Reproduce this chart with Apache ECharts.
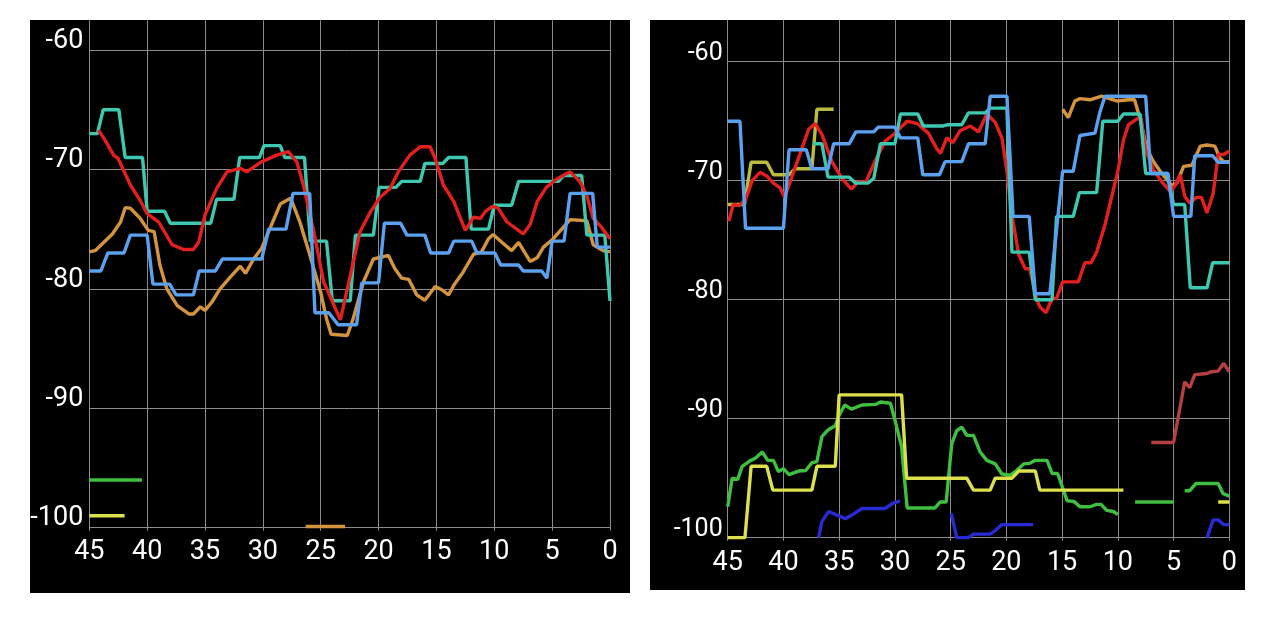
<!DOCTYPE html>
<html>
<head>
<meta charset="utf-8">
<script src="https://cdn.jsdelivr.net/npm/echarts@6/dist/echarts.min.js"></script>
<style>
html,body{margin:0;padding:0;background:#fff;}
#chart{width:1278px;height:619px;}
</style>
</head>
<body>
<div id="chart"></div>
<script>
// ---------- tick labels ----------
const xTicks = [45, 40, 35, 30, 25, 20, 15, 10, 5, 0];
const yTicks = [-60, -70, -80, -90, -100];

// ---------- left panel series ([seconds ago, dBm]) ----------
const leftTeal = [[45,-67],[44.3,-67],[43.8,-65],[42.45,-65],[41.9,-69],[40.4,-69],[40,-73.5],[38.5,-73.5],[38,-74.5],[34.5,-74.5],[34,-72.5],[32.5,-72.5],[32,-69],[30.3,-69],[29.9,-68],[28.5,-68],[28.1,-69],[26.4,-69],[25.9,-76],[24.5,-76],[24,-81],[22.45,-81],[22,-75.5],[20.45,-75.5],[19.95,-71.5],[18.5,-71.5],[18,-71],[16.4,-71],[16,-69.5],[14.45,-69.5],[13.95,-69],[12.45,-69],[12,-75],[10.5,-75],[10,-73],[8.5,-73],[7.9,-71],[4.45,-71],[4,-70.5],[2.45,-70.5],[2,-75.5],[0.45,-75.5],[0,-81]];
const leftRed = [[44.2,-66.7],[43.6,-67.6],[42.9,-68.8],[42.5,-69.1],[41.45,-71.3],[40.6,-72.6],[40,-73.7],[39,-74.4],[37.85,-76.3],[36.85,-76.7],[36,-76.7],[35.55,-76.1],[35,-73.8],[34,-71.6],[33.1,-70.2],[31.95,-69.9],[31.4,-70.2],[30.2,-69.4],[28.8,-68.8],[27.8,-68.5],[27.05,-69.4],[26.5,-71.3],[25.6,-75.2],[24.75,-79.4],[23.8,-81.5],[23.3,-82.6],[22.7,-80.0],[21.6,-75.2],[20.7,-73.55],[19.85,-72.3],[19.0,-71.6],[18.3,-70.2],[17.3,-68.8],[16.4,-68.1],[15.55,-68.1],[15.1,-69.1],[14.4,-71.3],[13.5,-72.7],[12.5,-75.1],[11.8,-74.0],[11.2,-74.1],[10.8,-73.55],[10.2,-73.1],[9.7,-73.2],[8.9,-74.4],[7.5,-75.4],[6.9,-74.6],[6.3,-72.7],[5.5,-71.5],[4.6,-70.8],[3.45,-70.2],[2.6,-71.0],[2.0,-72.2],[1.45,-74.1],[0.86,-74.7],[0,-75.8]];
const leftOrange = [[45,-76.9],[44.5,-76.8],[43,-75.4],[42.3,-74.4],[41.9,-73.2],[41.45,-73.25],[40.6,-74.1],[39.9,-75.1],[39.4,-75.2],[38.9,-78.0],[38.3,-80.0],[37.4,-81.4],[36.4,-82.1],[36,-82.1],[35.4,-81.5],[35,-81.8],[34.4,-81.1],[33.7,-80.0],[32.8,-79.0],[31.95,-78.1],[31.5,-78.7],[30.8,-77.5],[30.1,-76.6],[29.5,-75.2],[28.5,-72.9],[27.6,-72.4],[26.8,-74.4],[26.05,-76.8],[25.0,-80.3],[24.5,-82.5],[24.1,-83.8],[22.7,-83.9],[22.2,-82.5],[21.3,-79.4],[20.45,-77.5],[19.15,-77.2],[18.6,-78.3],[18.0,-79.1],[17.4,-79.2],[16.7,-80.5],[16.0,-80.95],[15.1,-79.8],[14.5,-80.1],[13.95,-80.5],[13.5,-79.7],[12.7,-78.6],[11.8,-77.1],[11.1,-76.9],[10.5,-75.8],[10.1,-75.45],[9.35,-76.1],[8.5,-76.8],[7.9,-76.1],[6.9,-77.7],[6.3,-77.4],[5.75,-76.5],[4.9,-75.8],[4.0,-74.8],[3.45,-74.2],[2.0,-74.3],[1.45,-76.3],[0.6,-76.8],[0,-76.9]];
const leftBlue = [[45,-78.5],[44,-78.5],[43.4,-77],[42,-77],[41.45,-75.5],[40,-75.5],[39.5,-79.6],[38.05,-79.6],[37.5,-80.5],[36,-80.5],[35.5,-78.5],[34.1,-78.5],[33.5,-77.5],[30.1,-77.5],[29.5,-75],[28,-75],[27.4,-72],[25.95,-72],[25.5,-82],[24.3,-82],[23.5,-83],[21.9,-83],[21.45,-79.5],[20,-79.5],[19.5,-74.5],[18.1,-74.5],[17.55,-75.5],[16,-75.5],[15.5,-77],[13.95,-77],[13.5,-76],[11.95,-76],[11.5,-77],[9.95,-77],[9.45,-78],[7.9,-78],[7.5,-78.5],[5.9,-78.5],[5.45,-79.1],[5.0,-76],[3.97,-76],[3.45,-72],[1.5,-72],[1.1,-76.5],[0,-76.5]];
const leftGreen = [[45,-96],[40.45,-96]];
const leftYellow = [[45,-99],[41.95,-99]];
const leftOrangeLow = [[26.3,-99.9],[22.9,-99.9]];

// ---------- right panel series ----------
const rightOlive = [[45,-72],[43.5,-72],[42.9,-68.45],[41.5,-68.45],[40.9,-69.5],[39.5,-69.5],[38.95,-69],[37.45,-69],[37,-64],[35.5,-64]];
const rightOrange = [[14.95,-64.0],[14.45,-64.7],[13.85,-63.3],[13.4,-63.1],[12.5,-63.2],[11.45,-62.9],[10.1,-63.3],[9.05,-63.2],[8.5,-63.2],[8.0,-64.8],[7.4,-67.3],[6.8,-68.4],[6.2,-69.2],[5.7,-69.8],[5.15,-70.4],[4.7,-70.2],[4.1,-68.8],[3.35,-68.7],[2.6,-67.1],[2.0,-67.0],[1.3,-67.1],[0.85,-68.1],[0.5,-68.4],[0,-68.4]];
const rightRed = [[44.9,-73.4],[44.5,-72.0],[44.0,-72.1],[43.4,-71.6],[42.8,-70.0],[42.1,-69.3],[41.5,-69.6],[40.9,-70.2],[40.3,-70.6],[39.9,-71.4],[39.25,-69.7],[38.5,-67.7],[37.75,-65.7],[37.15,-65.2],[36.55,-66.1],[35.65,-68.4],[34.75,-69.8],[33.9,-70.7],[33.3,-70.1],[32.6,-70.1],[31.8,-68.4],[30.9,-66.7],[30.1,-66.1],[28.9,-65.0],[28.0,-65.2],[27.0,-66.0],[26.25,-67.3],[25.9,-67.7],[25.35,-66.4],[24.8,-66.8],[24.15,-65.8],[23.25,-65.4],[22.5,-65.9],[21.75,-64.4],[21.0,-65.1],[20.4,-66.4],[19.95,-69.2],[19.5,-72.9],[18.9,-76.2],[18.3,-77.4],[17.9,-77.4],[17.3,-79.9],[17.0,-80.6],[16.45,-81.1],[15.9,-79.9],[15.5,-79.9],[14.95,-78.5],[13.55,-78.5],[12.95,-76.9],[12.4,-76.9],[11.9,-76.0],[11.15,-73.7],[10.0,-69.2],[9.5,-66.6],[9.05,-65.3],[8.3,-64.8],[7.9,-64.8],[7.55,-67.3],[6.8,-69.1],[6.05,-70.1],[5.3,-70.9],[4.85,-70.4],[4.4,-69.5],[4.0,-71.3],[3.55,-71.9],[2.95,-71.4],[2.5,-71.4],[2.0,-72.7],[1.45,-71.1],[1.0,-67.8],[0.5,-67.8],[0,-67.5]];
const rightTeal = [[37.35,-66.9],[36.55,-66.9],[36,-69.7],[34.1,-69.7],[33.55,-70.2],[32.4,-70.2],[31.9,-69.8],[31.3,-66.9],[30,-66.9],[29.5,-64.4],[27.95,-64.4],[27.45,-65.4],[25.65,-65.4],[25.3,-65.3],[24,-65.3],[23.4,-64.3],[21.9,-64.3],[21.45,-63.9],[19.95,-63.9],[19.5,-76],[17.95,-76],[17.4,-80],[15.9,-80],[15.5,-73],[14,-73],[13.45,-71],[11.9,-71],[11.35,-65],[10,-65],[9.5,-64.4],[8,-64.4],[7.5,-69.4],[5.6,-69.4],[5,-72],[4,-72],[3.5,-79],[2,-79],[1.5,-76.9],[0,-76.9]];
const rightBlue = [[45,-65],[43.9,-65],[43.4,-74],[40,-74],[39.5,-67.4],[37.95,-67.4],[37.45,-69],[36,-69],[35.5,-66.9],[34.1,-66.9],[33.5,-65.9],[31.9,-65.9],[31.5,-65.5],[30,-65.5],[29.5,-66.4],[27.95,-66.4],[27.5,-69.5],[26,-69.5],[25.5,-68.4],[24,-68.4],[23.4,-66.9],[21.9,-66.9],[21.45,-62.9],[19.95,-62.9],[19.4,-73],[17.95,-73],[17.4,-79.5],[16.1,-79.5],[14.95,-69.2],[14,-69.2],[13.4,-66.2],[12.05,-66],[11.6,-64.2],[11.15,-62.9],[7.5,-62.9],[7.05,-69.4],[5.5,-69.4],[5,-73],[3.45,-73],[3.1,-67.9],[1.5,-67.9],[1,-68.45],[0,-68.45]];
const rightGreenA = [[45,-97.4],[44.6,-95.0],[44.1,-95.1],[43.7,-94.0],[43.1,-93.6],[42.5,-93.3],[41.9,-92.8],[41.4,-93.5],[40.9,-93.5],[40.45,-94.45],[40.0,-94.2],[39.5,-94.7],[38.65,-94.4],[38.0,-94.35],[37.45,-93.7],[37.0,-93.6],[36.55,-91.5],[36.0,-90.95],[35.35,-90.6],[35.0,-89.7],[34.5,-88.85],[33.9,-89.2],[32.95,-88.85],[31.75,-88.8],[31.3,-88.6],[30.4,-88.7],[30.0,-90.1],[29.4,-92.35],[28.9,-97.5],[26.4,-97.5],[25.95,-97.0],[25.4,-97.0],[24.9,-92.1],[24.45,-91.0],[24.0,-90.7],[23.55,-91.4],[22.95,-91.4],[22.35,-92.8],[21.75,-93.5],[21.0,-93.8],[20.4,-94.65],[19.65,-94.75],[19.2,-94.45],[18.45,-93.8],[17.9,-93.75],[17.4,-93.5],[16.35,-93.5],[15.9,-94.6],[15.4,-94.6],[14.55,-96.9],[13.95,-96.95],[13.4,-97.4],[12.5,-97.4],[11.9,-97.2],[11.5,-97.2],[11.0,-97.7],[10.4,-97.8],[10.0,-98.05]];
const rightGreenB = [[8.45,-97],[5,-97]];
const rightGreenC = [[4,-96.05],[3.55,-96.05],[3.0,-95.45],[1.0,-95.45],[0.55,-96.3],[0,-96.5]];
const rightYellowA = [[45,-100],[43.45,-100],[42.9,-94],[41.5,-94],[40.95,-96],[37.45,-96],[37,-94],[35.35,-94],[35,-88],[29.4,-88],[28.95,-95],[23.55,-95],[22.95,-96],[21.45,-96],[21.0,-95],[19.5,-95],[18.9,-94.4],[17.4,-94.4],[17.0,-96],[9.5,-96]];
const rightYellowB = [[1,-97],[0,-97]];
const rightNavyA = [[36.85,-100],[36.55,-98.65],[35.95,-97.8],[35.2,-98.1],[34.45,-98.4],[33.7,-98.0],[32.95,-97.55],[30.9,-97.55],[30.15,-97.1],[29.55,-96.9]];
const rightNavyB = [[24.95,-97.95],[24.45,-100],[23.4,-100],[22.95,-99.7],[21.45,-99.7],[21.0,-99.4],[20.4,-98.9],[17.6,-98.9]];
const rightNavyC = [[2.0,-100],[1.45,-98.5],[1.0,-98.5],[0.5,-98.9],[0,-98.9]];
const rightBrown = [[7,-92],[5,-92],[4,-86.9],[3.55,-87.4],[3.1,-86.3],[2,-86.2],[1.6,-86.05],[1,-86.0],[0.5,-85.35],[0,-86.05]];

// ---------- styling ----------
const C = {
  red:'#e3201e', teal:'#3ec8b0', orange:'#d4943e', blue:'#5aa2f0',
  green:'#3fbf3f', yellow:'#dce04c', olive:'#bcbc3c', navy:'#2a2ad2', brown:'#b54040'
};
const GRID_COLOR = '#8c8c8c';

function line(data, color, gi, w) {
  return {
    type:'line', data:data, xAxisIndex:gi, yAxisIndex:gi,
    showSymbol:false, symbol:'none', animation:false,
    lineStyle:{color:color, width:w||3.4}, itemStyle:{color:color},
    emphasis:{disabled:true}, silent:true
  };
}

function xAxisCfg(gi, fs, margin) {
  return {
    type:'value', gridIndex:gi, inverse:true, min:0, max:45, interval:5,
    axisLine:{show:true, lineStyle:{color:GRID_COLOR, width:1}},
    axisTick:{show:true, length:3, lineStyle:{color:GRID_COLOR}},
    splitLine:{show:true, lineStyle:{color:GRID_COLOR, width:1}},
    axisLabel:{color:'#fff', fontFamily:'Roboto', fontSize:fs, margin:margin, lineHeight:fs,
      formatter:function(v){ return xTicks.indexOf(v) >= 0 ? String(v) : ''; }}
  };
}
function yAxisCfg(gi, fs, lh, margin, max) {
  return {
    type:'value', gridIndex:gi, min:-100, max:max, interval:10,
    axisLine:{show:false}, axisTick:{show:false},
    splitLine:{show:true, showMaxLine:false, lineStyle:{color:GRID_COLOR, width:1}},
    axisLabel:{color:'#fff', fontFamily:'Roboto', fontSize:fs, margin:margin,
      verticalAlign:'bottom', lineHeight:lh, showMaxLabel:false,
      formatter:function(v){ return yTicks.indexOf(v) >= 0 ? String(v) : ''; }}
  };
}

const chart = echarts.init(document.getElementById('chart'), null, {renderer:'canvas'});
chart.setOption({
  backgroundColor:'#ffffff',
  animation:false,
  graphic:{elements:[
    {type:'rect', z:-100, silent:true, shape:{x:30, y:20, width:600, height:573}, style:{fill:'#000'}},
    {type:'rect', z:-100, silent:true, shape:{x:650, y:20, width:595, height:570}, style:{fill:'#000'}}
  ]},
  grid:[
    {left:89.3, right:668, top:20.2, bottom:91.3},
    {left:727.7, right:48.7, top:20.05, bottom:81.3}
  ],
  xAxis:[xAxisCfg(0, 27, 11), xAxisCfg(1, 27, 12)],
  yAxis:[yAxisCfg(0, 27, 18, 6, -57.5), yAxisCfg(1, 25, 15, 5, -56.5)],
  series:[
    line(leftGreen, C.green, 0), line(leftYellow, C.yellow, 0), line(leftOrangeLow, C.orange, 0),
    line(leftOrange, C.orange, 0), line(leftTeal, C.teal, 0), line(leftRed, C.red, 0), line(leftBlue, C.blue, 0),
    line(rightGreenA, C.green, 1), line(rightGreenB, C.green, 1), line(rightGreenC, C.green, 1),
    line(rightYellowA, C.yellow, 1), line(rightYellowB, C.yellow, 1),
    line(rightNavyA, C.navy, 1), line(rightNavyB, C.navy, 1), line(rightNavyC, C.navy, 1),
    line(rightBrown, C.brown, 1),
    line(rightOlive, C.olive, 1), line(rightOrange, C.orange, 1), line(rightRed, C.red, 1),
    line(rightTeal, C.teal, 1), line(rightBlue, C.blue, 1)
  ]
});
</script>
</body>
</html>
